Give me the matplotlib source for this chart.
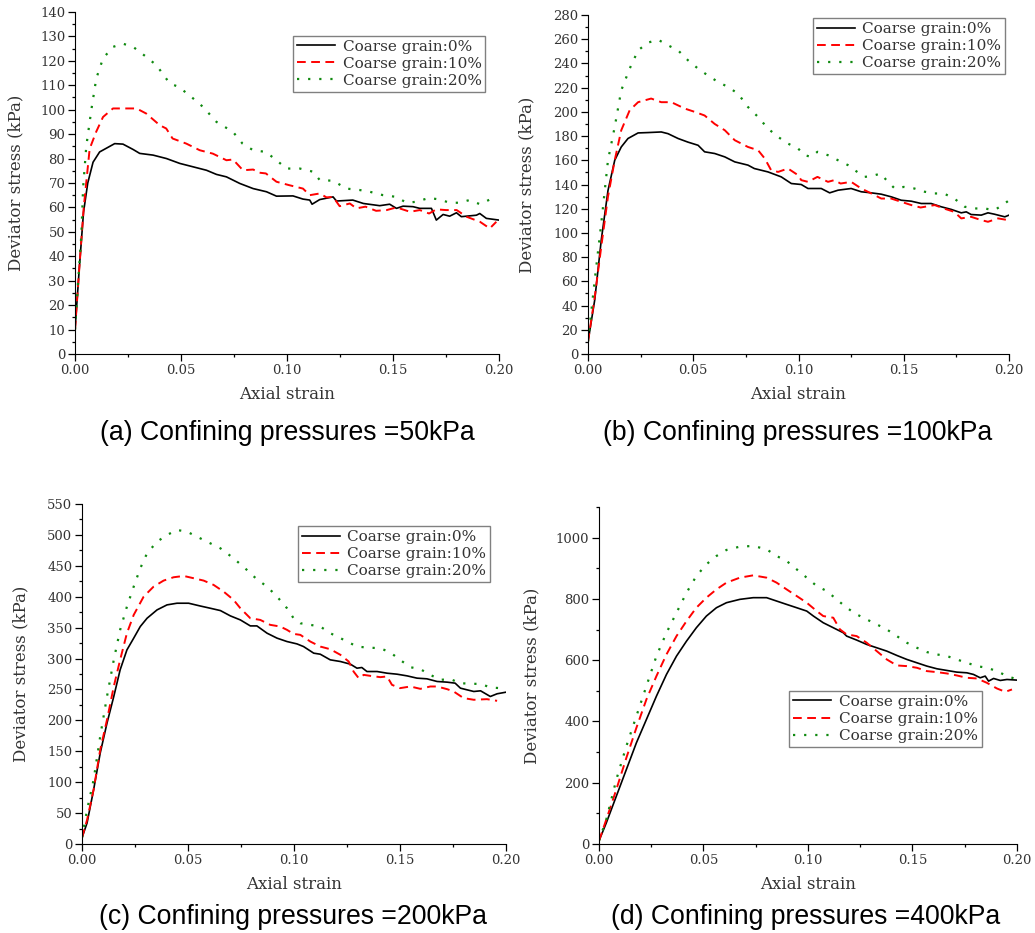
import matplotlib
matplotlib.use("Agg")
import matplotlib.pyplot as plt
from matplotlib.ticker import MultipleLocator, FormatStrFormatter

# ---- data (strain, deviator stress kPa) ----
labels = ["Coarse grain:0%", "Coarse grain:10%", "Coarse grain:20%"]
captions = ["(a) Confining pressures =50kPa", "(b) Confining pressures =100kPa",
            "(c) Confining pressures =200kPa", "(d) Confining pressures =400kPa"]

# (a) 50 kPa
a_x0 = [0.0, 0.002, 0.004, 0.006, 0.0085, 0.0116, 0.0187, 0.0226, 0.0274, 0.0305, 0.0368, 0.0431, 0.0494, 0.0557, 0.062, 0.0667, 0.0714, 0.0777, 0.084, 0.0903, 0.095, 0.1028, 0.1075, 0.1107, 0.1118, 0.1154, 0.1217, 0.1233, 0.131, 0.136, 0.1437, 0.1484, 0.1516, 0.1547, 0.1594, 0.1626, 0.1681, 0.1704, 0.1736, 0.1767, 0.1799, 0.1822, 0.1893, 0.1909, 0.194, 0.2]
a_y0 = [10, 35, 58, 70, 78.5, 82.7, 86.1, 85.9, 83.7, 82.1, 81.4, 80, 78, 76.6, 75.2, 73.5, 72.5, 69.8, 67.7, 66.4, 64.6, 64.7, 63.4, 63, 61.3, 63.2, 64.3, 62.6, 63, 61.6, 60.7, 61.3, 59.6, 60.5, 60.3, 59.6, 59.6, 54.8, 57.1, 56.4, 57.8, 56.2, 56.8, 57.5, 55.5, 54.8]
a_x1 = [0.0, 0.002, 0.0041, 0.0069, 0.010, 0.0132, 0.0179, 0.0242, 0.029, 0.0336, 0.04, 0.043, 0.046, 0.0525, 0.0588, 0.065, 0.0714, 0.0745, 0.0792, 0.084, 0.087, 0.090, 0.095, 0.101, 0.1075, 0.1107, 0.1154, 0.1186, 0.1217, 0.1248, 0.1296, 0.1327, 0.137, 0.142, 0.147, 0.1516, 0.158, 0.1626, 0.167, 0.1704, 0.175, 0.18, 0.1846, 0.191, 0.1956, 0.1987]
a_y1 = [10, 35, 60, 84, 91, 97, 100.5, 100.5, 100.5, 98.4, 93.6, 92.3, 88.2, 86.1, 83.4, 82, 79.3, 79.6, 75.2, 75.5, 74.2, 73.9, 70.5, 69.1, 67.7, 65, 65.7, 64.1, 64.3, 60.5, 61.6, 59.6, 60.3, 58.6, 58.9, 60, 58.2, 58.9, 57.5, 59.2, 58.9, 58.9, 56.2, 54.1, 51.4, 54.1]
a_x2 = [0.0, 0.0015, 0.003, 0.0038, 0.0053, 0.0077, 0.010, 0.0132, 0.0179, 0.0226, 0.0274, 0.0336, 0.0384, 0.0447, 0.049, 0.0557, 0.0604, 0.0667, 0.0745, 0.079, 0.084, 0.090, 0.095, 0.0997, 0.106, 0.1123, 0.1154, 0.1217, 0.128, 0.1343, 0.139, 0.1453, 0.1516, 0.1563, 0.161, 0.167, 0.172, 0.1767, 0.1814, 0.186, 0.191, 0.1956, 0.198]
a_y2 = [10, 30, 49, 68, 85, 100, 112.7, 121, 125.7, 127, 125.7, 121.6, 118.2, 110.7, 109.3, 104.6, 101.1, 95, 90.9, 86.1, 83.4, 82.7, 79.3, 75.9, 75.9, 74.6, 71.2, 70.9, 67.7, 67.1, 66.4, 65, 64.3, 61.9, 62.3, 63.9, 63.2, 61.9, 61.9, 63, 61.3, 63.2, 65]

# (b) 100 kPa
b_x0 = [0.0, 0.0032, 0.0063, 0.0095, 0.0127, 0.0158, 0.019, 0.0238, 0.0285, 0.0348, 0.038, 0.0428, 0.0475, 0.0523, 0.0554, 0.0602, 0.065, 0.0697, 0.076, 0.079, 0.0855, 0.0918, 0.0966, 0.1013, 0.1045, 0.1108, 0.1148, 0.1188, 0.125, 0.1298, 0.1346, 0.1393, 0.1441, 0.1488, 0.1536, 0.1583, 0.163, 0.1678, 0.1726, 0.1773, 0.1797, 0.182, 0.1868, 0.19, 0.193, 0.198, 0.2]
b_y0 = [10, 44.6, 94, 135, 160, 171, 178, 182.6, 182.9, 183.4, 182, 178, 175, 172.4, 167, 165.6, 162.8, 158.7, 156, 153.2, 150.4, 146.3, 140.8, 140, 136.7, 136.7, 133.1, 135.3, 136.7, 134, 133.1, 132, 129.8, 127, 126.2, 124.3, 124.3, 121.6, 119.4, 116.6, 117.4, 115.2, 114.7, 116.6, 115.5, 113.3, 114.7]
b_x1 = [0.0, 0.0032, 0.0063, 0.0095, 0.0127, 0.0158, 0.0198, 0.0238, 0.03, 0.0348, 0.0396, 0.046, 0.0507, 0.0554, 0.0602, 0.065, 0.0697, 0.076, 0.0808, 0.084, 0.087, 0.0903, 0.095, 0.0998, 0.1013, 0.1045, 0.109, 0.114, 0.117, 0.12, 0.125, 0.1298, 0.1346, 0.1393, 0.144, 0.1488, 0.1536, 0.158, 0.1647, 0.169, 0.174, 0.1773, 0.182, 0.1868, 0.19, 0.1948, 0.1995]
b_y1 = [10, 47, 88.6, 130, 160, 184.8, 201.3, 208, 211, 208, 208, 202.7, 200, 197, 190, 184.8, 176.6, 171, 168.3, 161.4, 151.8, 150.4, 153.2, 147.7, 143.6, 142.2, 146.3, 142.2, 143.6, 140.8, 142.2, 136.7, 132.6, 128.4, 128.4, 125.7, 123, 121, 123, 120.2, 117.4, 112, 113.3, 110.6, 109.2, 112, 110.6]
b_x2 = [0.0, 0.0032, 0.0063, 0.0095, 0.0127, 0.0158, 0.0198, 0.0238, 0.0285, 0.0333, 0.038, 0.0428, 0.0475, 0.0523, 0.057, 0.0618, 0.0665, 0.0713, 0.076, 0.0808, 0.0855, 0.0903, 0.095, 0.0998, 0.103, 0.106, 0.109, 0.114, 0.1188, 0.1235, 0.1267, 0.1314, 0.1346, 0.139, 0.1425, 0.1457, 0.15, 0.155, 0.16, 0.1647, 0.169, 0.174, 0.179, 0.1837, 0.1884, 0.193, 0.197, 0.2]
b_y2 = [10, 61, 107.8, 160, 187.6, 217.8, 235.7, 250.8, 257.2, 259.6, 255, 250.8, 242.6, 235.7, 230, 224.7, 220.6, 215, 204, 195.8, 186.2, 179.3, 173.8, 169.7, 164.2, 162.8, 167, 164.2, 160, 156, 151.8, 146.3, 146.9, 149, 142.2, 136.7, 138, 136.7, 134, 132.6, 132.6, 128.4, 121.6, 120.2, 120.2, 118.8, 123, 127]

# (c) 200 kPa
c_x0 = [0.0, 0.0024, 0.0055, 0.0086, 0.0118, 0.015, 0.018, 0.0212, 0.0244, 0.0275, 0.0307, 0.0354, 0.0401, 0.0448, 0.0503, 0.0558, 0.0605, 0.0653, 0.07, 0.0747, 0.0794, 0.0825, 0.0873, 0.092, 0.0967, 0.1014, 0.1045, 0.1093, 0.1124, 0.1171, 0.1219, 0.1266, 0.1297, 0.132, 0.1344, 0.1392, 0.1439, 0.1486, 0.1533, 0.158, 0.1627, 0.1675, 0.1722, 0.176, 0.1785, 0.1816, 0.1848, 0.188, 0.1926, 0.1958, 0.2]
c_y0 = [10, 34, 88, 147, 195.5, 238.6, 281.7, 314, 333, 351.8, 365.2, 378.7, 386.8, 389.5, 389.5, 385, 381.4, 377.6, 369, 362.5, 352.8, 352.8, 341, 333, 327.5, 323.7, 319.4, 308.7, 307, 297.9, 295.2, 290.9, 284.4, 285.5, 279, 279, 276.3, 274.7, 272, 268.3, 267.2, 262.9, 261.8, 260.2, 252.1, 249.4, 246.7, 247.8, 238.6, 243, 245.6]
c_x1 = [0.0, 0.0024, 0.0055, 0.0086, 0.0118, 0.015, 0.018, 0.0212, 0.0244, 0.0291, 0.0338, 0.0385, 0.0432, 0.048, 0.0527, 0.0574, 0.0621, 0.0668, 0.0715, 0.0747, 0.0794, 0.0841, 0.0888, 0.0935, 0.0967, 0.0998, 0.103, 0.1077, 0.1124, 0.1171, 0.1219, 0.1258, 0.1281, 0.1305, 0.1329, 0.136, 0.1407, 0.1439, 0.1462, 0.15, 0.1549, 0.1596, 0.1643, 0.1675, 0.1722, 0.1753, 0.18, 0.1848, 0.191, 0.1958]
c_y1 = [10, 39, 88, 152.4, 200.9, 254.8, 297.9, 341, 370.6, 400.2, 416.4, 426.1, 431.5, 433.6, 429.9, 426.1, 419.1, 408.3, 394.9, 381.4, 365.2, 362.5, 354.5, 351.8, 346.4, 339.9, 338.3, 327.5, 319.4, 315.1, 306, 295.2, 279, 268.3, 273.6, 272, 269.9, 271, 257.5, 252.1, 254.8, 251, 254.8, 254.8, 250.5, 246.7, 236, 233.3, 234.3, 231.6]
c_x2 = [0.0, 0.0024, 0.0055, 0.0086, 0.0118, 0.015, 0.018, 0.0212, 0.0244, 0.0275, 0.0307, 0.0354, 0.0401, 0.0448, 0.0495, 0.0542, 0.059, 0.0653, 0.0715, 0.0778, 0.0825, 0.0873, 0.092, 0.0967, 0.0998, 0.103, 0.1077, 0.1124, 0.1171, 0.1219, 0.1266, 0.1297, 0.1344, 0.1407, 0.1455, 0.15, 0.1549, 0.1596, 0.1643, 0.169, 0.1738, 0.1785, 0.1832, 0.188, 0.1926, 0.1973]
c_y2 = [10, 55, 104, 174, 238.6, 297.9, 346.4, 384, 416.4, 446, 470.3, 489, 499.9, 508, 505.3, 497.2, 489, 478.3, 462.2, 443.3, 428.2, 416.4, 400.2, 381.4, 365.2, 357.1, 354.5, 351.8, 341, 333, 324.8, 319.4, 317.8, 316.7, 309.7, 297.9, 286, 282.8, 273.6, 265.6, 266.6, 260.2, 259.1, 259.1, 253.2, 252.1]

# (d) 400 kPa
d_x0 = [0.0, 0.0035, 0.0083, 0.0131, 0.0179, 0.0227, 0.0275, 0.0323, 0.0371, 0.0419, 0.0466, 0.0514, 0.0562, 0.061, 0.0674, 0.0738, 0.0802, 0.085, 0.0898, 0.0946, 0.0994, 0.1026, 0.1073, 0.1121, 0.1169, 0.1185, 0.1233, 0.1281, 0.1329, 0.1377, 0.1425, 0.1473, 0.1521, 0.1569, 0.1617, 0.1665, 0.1712, 0.176, 0.1792, 0.1824, 0.1848, 0.1864, 0.1888, 0.192, 0.1952, 0.2]
d_y0 = [10, 68.6, 155.8, 242.9, 330, 406.3, 482.6, 553.4, 613.3, 662.3, 705.9, 744, 771.2, 787.6, 798.5, 804, 804, 793, 782, 771.2, 760.3, 744, 722.2, 705.9, 689.5, 678.6, 665.6, 651.4, 640.5, 629.6, 615.5, 602.4, 591.5, 580.6, 571.9, 566.4, 561, 558.8, 553.4, 542.5, 548, 531.6, 540.3, 533.8, 537, 534.9]
d_x1 = [0.0, 0.0035, 0.0083, 0.0131, 0.0179, 0.0227, 0.0275, 0.0323, 0.0371, 0.0419, 0.0466, 0.0514, 0.0562, 0.061, 0.0674, 0.0738, 0.0802, 0.085, 0.0898, 0.0946, 0.0994, 0.1042, 0.1073, 0.1121, 0.1153, 0.1185, 0.1233, 0.1281, 0.1329, 0.1377, 0.1425, 0.1473, 0.1521, 0.1569, 0.1617, 0.1665, 0.1712, 0.176, 0.1808, 0.1856, 0.1904, 0.1944, 0.1976]
d_y1 = [10, 79.5, 177.6, 281, 379, 471.7, 548, 618.7, 678.6, 727.7, 771.2, 804, 831, 853, 869.3, 876.9, 869.3, 853, 831, 809.4, 787.6, 760.3, 744, 738.6, 700.4, 684.1, 678.6, 656.9, 629.6, 602.4, 582.8, 580.6, 575.2, 564.3, 561, 556.6, 550.1, 542.5, 540.3, 526.1, 507.6, 496.7, 504.4]
d_x2 = [0.0, 0.0035, 0.0083, 0.0131, 0.0179, 0.0227, 0.0275, 0.0323, 0.0371, 0.0419, 0.0466, 0.0514, 0.0562, 0.061, 0.0674, 0.0738, 0.0802, 0.085, 0.0898, 0.0946, 0.0994, 0.1042, 0.109, 0.1137, 0.1185, 0.1233, 0.1281, 0.1329, 0.1377, 0.1425, 0.1473, 0.1521, 0.1569, 0.1617, 0.1665, 0.1712, 0.176, 0.1808, 0.1856, 0.1904, 0.1952, 0.1992]
d_y2 = [10, 79.5, 210, 319, 417.2, 515.3, 613.3, 689.5, 755, 820.3, 874.7, 912.9, 940, 959.7, 970.6, 972.8, 961.9, 940, 923.7, 896.5, 869.3, 842, 825.7, 798.5, 771.2, 749.5, 733, 716.8, 700.4, 678.6, 656.9, 640.5, 626.4, 618.7, 613.3, 602.4, 591.5, 580.6, 575.2, 564.3, 548, 539.2]

serif = 'DejaVu Serif'

def draw_panel(fig, rect, curves, ymax, ymajor, yminor, leg_xy, ylab_x, caption, cap_xy):
	ax = fig.add_axes(rect)
	styles = [dict(color='black', lw=1.2, ls='-'),
	          dict(color='red', lw=1.4, ls=(0, (4.5, 2.8))),
	          dict(color='#108a10', lw=1.6, ls=(0, (1, 4)))]
	for (x, y), st, lab in zip(curves, styles, labels):
		ax.plot(x, y, label=lab, **st)
	ax.set_xlim(0, 0.2)
	ax.set_ylim(0, ymax)
	ax.xaxis.set_major_locator(MultipleLocator(0.05))
	ax.xaxis.set_minor_locator(MultipleLocator(0.025))
	ax.xaxis.set_major_formatter(FormatStrFormatter('%.2f'))
	ax.yaxis.set_major_locator(MultipleLocator(ymajor))
	ax.yaxis.set_minor_locator(MultipleLocator(yminor))
	ax.spines["top"].set_visible(False)
	ax.spines["right"].set_visible(False)
	ax.tick_params(which='major', direction='out', length=5, width=0.9, labelsize=9.5, pad=2,
	               labelcolor='#333333')
	ax.tick_params(which='minor', direction='out', length=2.5, width=0.9)
	for t in ax.get_xticklabels() + ax.get_yticklabels():
		t.set_family(serif)
	ax.set_xlabel("Axial strain", family=serif, fontsize=12, color='#333333')
	ax.set_ylabel("Deviator stress (kPa)", family=serif, fontsize=12, color='#333333')
	ax.xaxis.set_label_coords(0.5, -0.095)
	ax.yaxis.set_label_coords(ylab_x, 0.5)
	leg = ax.legend(loc='upper left', bbox_to_anchor=leg_xy, borderaxespad=0,
	                prop={'family': serif, 'size': 11}, fancybox=False,
	                edgecolor='#808080', framealpha=1, handlelength=2.5,
	                handletextpad=0.5, labelspacing=0.2, borderpad=0.25)
	for t in leg.get_texts():
		t.set_color('#333333')
	leg.get_frame().set_linewidth(1.0)
	fig.text(cap_xy[0], cap_xy[1], caption, ha='center', va='center',
	         family='Liberation Sans', fontsize=19.2)
	return ax

fig = plt.figure(figsize=(10.35, 9.33), dpi=100)
draw_panel(fig, [0.0725, 0.6206, 0.4097, 0.3666],
           [(a_x0, a_y0), (a_x1, a_y1), (a_x2, a_y2)],
           140, 10, 5, (0.514, 0.930), -0.12, captions[0], (0.2773, 0.536))
draw_panel(fig, [0.5681, 0.6206, 0.4068, 0.3633],
           [(b_x0, b_y0), (b_x1, b_y1), (b_x2, b_y2)],
           280, 20, 10, (0.534, 0.991), -0.124, captions[1], (0.771, 0.536))
draw_panel(fig, [0.0792, 0.0954, 0.4097, 0.3644],
           [(c_x0, c_y0), (c_x1, c_y1), (c_x2, c_y2)],
           550, 50, 25, (0.509, 0.935), -0.125, captions[2], (0.283, 0.0172))
draw_panel(fig, [0.5787, 0.0954, 0.4039, 0.3612],
           [(d_x0, d_y0), (d_x1, d_y1), (d_x2, d_y2)],
           1100, 200, 100, (0.455, 0.454), -0.139, captions[3], (0.778, 0.0172))
fig.savefig("out.png", dpi=100)
